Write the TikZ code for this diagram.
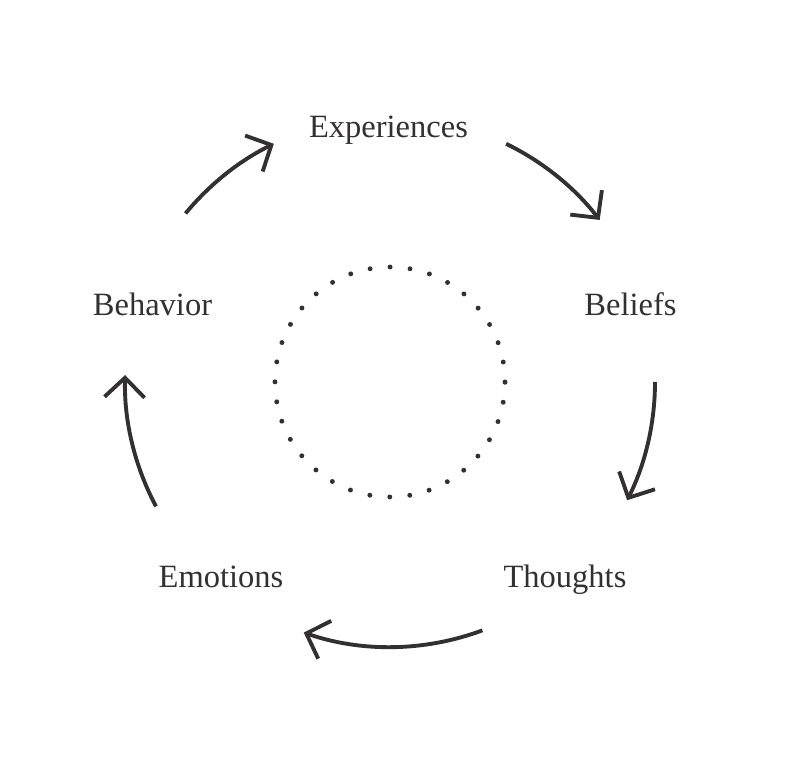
\documentclass[tikz,border=0pt]{standalone}
\usepackage{fontspec}
\setmainfont{Liberation Serif}
\usetikzlibrary{arrows.meta}
\definecolor{ink}{HTML}{333031}
\begin{document}
\begin{tikzpicture}[
		x=0.02cm, y=0.02cm,
		label/.style={anchor=base, text=ink, font=\fontsize{18.5}{20}\selectfont, inner sep=0pt},
		cycle/.style={draw=ink, line width=2.2pt, -{Straight Barb[length=0.39cm, width=0.8cm, line width=2.2pt]}},
		ring/.style={draw=ink, line width=2.8pt, line cap=round, dash pattern=on 0pt off 11.42pt}
	]
	\useasboundingbox (-390,-384) rectangle (410,382);
	\node[label] (exp) at (-1.5,244) {Experiences};
	\node[label] (bel) at (240.5,66) {Beliefs};
	\node[label] (tho) at (175,-206) {Thoughts};
	\node[label] (emo) at (-169,-206) {Emotions};
	\node[label] (beh) at (-237.5,66) {Behavior};
	\coordinate (c) at (0,0);
	\draw[ring] (c) circle[radius=115];
	\coordinate (a1) at (140.5:265);
	\coordinate (a2) at (64:265);
	\coordinate (a3) at (0:265);
	\coordinate (a4) at (-69.6:265);
	\coordinate (a5) at (-152:265);
	\draw[cycle] (a1) arc[start angle=140.5, end angle=116, radius=265];
	\draw[cycle] (a2) arc[start angle=64, end angle=37.7, radius=265];
	\draw[cycle] (a3) arc[start angle=0, end angle=-26.5, radius=265];
	\draw[cycle] (a4) arc[start angle=-69.6, end angle=-109, radius=265];
	\draw[cycle] (a5) arc[start angle=-152, end angle=-181.5, radius=265];
\end{tikzpicture}
\end{document}
